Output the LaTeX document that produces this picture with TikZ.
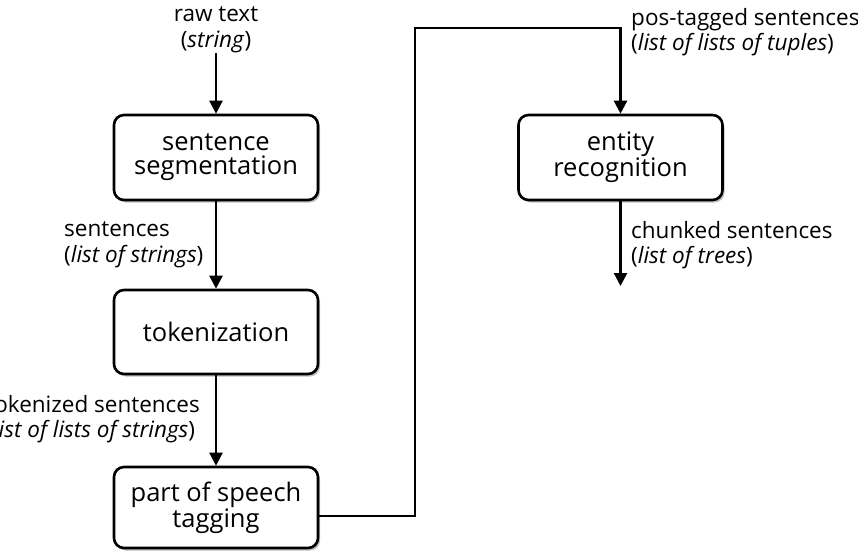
\documentclass[tikz,border=0pt]{standalone}
\usepackage{fontspec}
\setmainfont{Open Sans}
\usetikzlibrary{arrows.meta,shadows}
\begin{document}
\begin{tikzpicture}[x=1pt,y=-1pt,
  every node/.style={inner sep=0pt},
  procbox/.style={draw=black, line width=2.6pt, rounded corners=10pt, fill=white,
    align=center, minimum width=204pt, font=\fontsize{25.5}{24}\selectfont,
    drop shadow={shadow xshift=2pt, shadow yshift=-2.5pt, fill=black, opacity=0.25}},
  lbl/.style={align=left, font=\fontsize{22.5}{25.5}\selectfont},
  arr/.style={line width=2.4pt, -{Triangle[width=13pt,length=13pt]}},
  conn/.style={line width=2.4pt}]
\useasboundingbox (0,0) rectangle (858,551);
\clip (0,0) rectangle (858,551);
\fill[white] (0,0) rectangle (858,551);

\node[procbox, minimum height=85pt] (seg) at (216,157.5) {sentence\\segmentation};
\node[procbox, minimum height=84pt] (tok) at (216,332) {tokenization};
\node[procbox, minimum height=81pt] (pos) at (216,507.5) {part of speech\\tagging};
\node[procbox, minimum height=85pt] (ent) at (620.5,157.5) {entity\\recognition};

\node[lbl, align=center] (raw) at (216,30) {raw text\\(\textit{string})};
\node[lbl, anchor=west] (sentl) at (64,245) {sentences\\(\textit{list of strings})};
\node[lbl, anchor=east] (tokl) at (200,419) {tokenized sentences\\(\textit{list of lists of strings})};
\node[lbl, anchor=west] (posl) at (631,32) {pos-tagged sentences\\(\textit{list of lists of tuples})};
\node[lbl, anchor=west] (chl) at (631,245) {chunked sentences\\(\textit{list of trees})};

\coordinate (turn) at (415,28);
\coordinate (out) at (620.5,286);

\draw[arr] (raw.south) -- (seg.north);
\draw[arr] (seg.south) -- (tok.north);
\draw[arr] (tok.south) -- (pos.north);
\draw[arr] ([yshift=-8.5pt]pos.east) -| (turn) -| (ent.north);
\draw[arr] (ent.south) -- (out);
\end{tikzpicture}
\end{document}
